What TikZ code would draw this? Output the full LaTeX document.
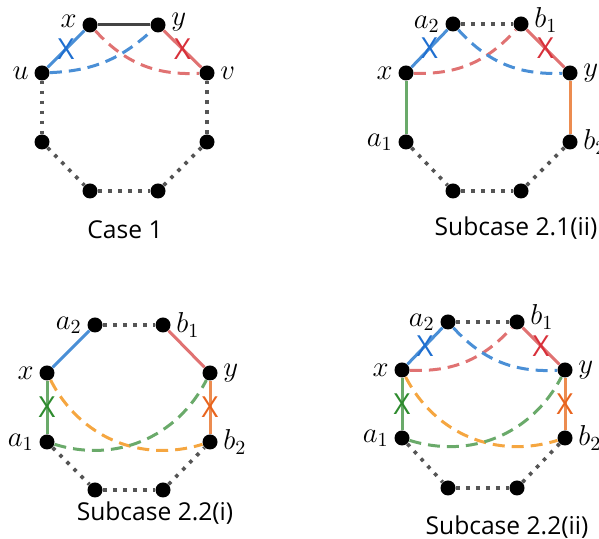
\documentclass[tikz,border=0pt]{standalone}
\usepackage{fontspec}
\newfontfamily\capfont{Open Sans}
\usepackage{xcolor}
\usetikzlibrary{positioning}

\definecolor{bluel}{HTML}{4A8FD6}
\definecolor{blueX}{HTML}{1F6FD0}
\definecolor{redl}{HTML}{E07272}
\definecolor{redX}{HTML}{D8303A}
\definecolor{greenl}{HTML}{6AAA6A}
\definecolor{greenX}{HTML}{2E8B2E}
\definecolor{orangel}{HTML}{EC8C50}
\definecolor{oranged}{HTML}{F5A640}
\definecolor{orangeX}{HTML}{E8641E}
\definecolor{dotgray}{HTML}{555555}
\definecolor{edgegray}{HTML}{444444}

\begin{document}
\begin{tikzpicture}[x=0.5pt, y=0.5pt,
  dot/.style={circle, fill=black, inner sep=0pt, minimum size=7.5pt},
  lab/.style={font=\fontsize{14}{16}\selectfont, inner sep=2.5pt},
  casetext/.style={font=\capfont\fontsize{12.3}{14}\selectfont},
  xmark/.style={font=\capfont\fontsize{14.5}{16}\selectfont, inner sep=0pt},
  dots/.style={line width=1.8pt, draw=dotgray, dash pattern=on 1.8pt off 3.2pt},
  solid gray/.style={line width=1.5pt, draw=edgegray},
  sblue/.style={line width=1.5pt, draw=bluel},
  sred/.style={line width=1.5pt, draw=redl},
  sgreen/.style={line width=1.5pt, draw=greenl},
  sorange/.style={line width=1.5pt, draw=orangel},
  dblue/.style={line width=1.5pt, draw=bluel, dash pattern=on 6pt off 3.5pt},
  dred/.style={line width=1.5pt, draw=redl, dash pattern=on 6pt off 3.5pt},
  dgreen/.style={line width=1.5pt, draw=greenl, dash pattern=on 6pt off 3.5pt},
  dorange/.style={line width=1.5pt, draw=oranged, dash pattern=on 6pt off 3.5pt}
]
\useasboundingbox (0,0) rectangle (599,539);

% Case 1
\node[dot, label={[lab, yshift=2pt]left:$x$}] (cx) at (90, 514) {};
\node[dot, label={[lab, yshift=1.5pt]right:$y$}] (cy) at (158, 514) {};
\node[dot, label={[lab]left:$u$}] (cu) at (42, 466) {};
\node[dot, label={[lab]right:$v$}] (cv) at (207, 466) {};
\node[dot] (cl) at (42, 397) {};
\node[dot] (cr) at (207, 397) {};
\node[dot] (cbl) at (90, 348) {};
\node[dot] (cbr) at (158, 348) {};
\node[casetext] (ccap) at (125, 309) {Case 1};

\draw[solid gray] (cx) -- (cy);
\draw[sblue] (cu) -- (cx) node[midway, xmark, text=blueX] {X};
\draw[sred] (cy) -- (cv) node[midway, xmark, text=redX] {X};
\draw[dblue] (cu) to [bend right=20] (cy);
\draw[dred] (cx) to [bend right=25] (cv);
\draw[dots] (cu) -- (cl);
\draw[dots] (cl) -- (cbl);
\draw[dots] (cbl) -- (cbr);
\draw[dots] (cbr) -- (cr);
\draw[dots] (cr) -- (cv);

% Subcase 2.1(ii)
\node[dot, label={[lab]left:$a_2$}] (pa2) at (453, 515) {};
\node[dot, label={[lab, yshift=2pt]right:$b_1$}] (pb1) at (521, 515) {};
\node[dot, label={[lab]left:$x$}] (px) at (406, 466) {};
\node[dot, label={[lab]right:$y$}] (py) at (570, 466) {};
\node[dot, label={[lab]left:$a_1$}] (pa1) at (406, 397) {};
\node[dot, label={[lab]right:$b_2$}] (pb2) at (570, 397) {};
\node[dot] (pbl) at (453, 348) {};
\node[dot] (pbr) at (521, 348) {};
\node[casetext] (pcap) at (516, 311) {Subcase 2.1(ii)};

\draw[dots] (pa2) -- (pb1);
\draw[sblue] (px) -- (pa2) node[midway, xmark, text=blueX] {X};
\draw[sred] (pb1) -- (py) node[midway, xmark, text=redX] {X};
\draw[dred] (px) to [bend right=25] (pb1);
\draw[dblue] (pa2) to [bend right=25] (py);
\draw[sgreen] (px) -- (pa1);
\draw[sorange] (py) -- (pb2);
\draw[dots] (pa1) -- (pbl);
\draw[dots] (pbl) -- (pbr);
\draw[dots] (pbr) -- (pb2);

% Subcase 2.2(i)
\node[dot, label={[lab]left:$a_2$}] (qa2) at (95, 214) {};
\node[dot, label={[lab]right:$b_1$}] (qb1) at (163, 214) {};
\node[dot, label={[lab]left:$x$}] (qx) at (47, 166) {};
\node[dot, label={[lab]right:$y$}] (qy) at (210, 166) {};
\node[dot, label={[lab]left:$a_1$}] (qa1) at (47, 97) {};
\node[dot, label={[lab]right:$b_2$}] (qb2) at (210, 97) {};
\node[dot] (qbl) at (95, 49) {};
\node[dot] (qbr) at (163, 49) {};
\node[casetext] (qcap) at (155, 26) {Subcase 2.2(i)};

\draw[dots] (qa2) -- (qb1);
\draw[sblue] (qx) -- (qa2);
\draw[sred] (qb1) -- (qy);
\draw[sgreen] (qx) -- (qa1) node[midway, xmark, text=greenX] {X};
\draw[sorange] (qy) -- (qb2) node[midway, xmark, text=orangeX] {X};
\draw[dorange] (qx) to [bend right=40] (qb2);
\draw[dgreen] (qa1) to [bend right=40] (qy);
\draw[dots] (qa1) -- (qbl);
\draw[dots] (qbl) -- (qbr);
\draw[dots] (qbr) -- (qb2);

% Subcase 2.2(ii)
\node[dot, label={[lab]left:$a_2$}] (ra2) at (448, 217) {};
\node[dot, label={[lab, yshift=2.5pt]right:$b_1$}] (rb1) at (517, 217) {};
\node[dot, label={[lab]left:$x$}] (rx) at (402, 169) {};
\node[dot, label={[lab]right:$y$}] (ry) at (565, 169) {};
\node[dot, label={[lab]left:$a_1$}] (ra1) at (402, 101) {};
\node[dot, label={[lab]right:$b_2$}] (rb2) at (565, 101) {};
\node[dot] (rbl) at (448, 51) {};
\node[dot] (rbr) at (517, 51) {};
\node[casetext] (rcap) at (507, 12) {Subcase 2.2(ii)};

\draw[dots] (ra2) -- (rb1);
\draw[sblue] (rx) -- (ra2) node[midway, xmark, text=blueX] {X};
\draw[sred] (rb1) -- (ry) node[midway, xmark, text=redX] {X};
\draw[sgreen] (rx) -- (ra1) node[midway, xmark, text=greenX] {X};
\draw[sorange] (ry) -- (rb2) node[midway, xmark, text=orangeX] {X};
\draw[dred] (rx) to [bend right=25] (rb1);
\draw[dblue] (ra2) to [bend right=25] (ry);
\draw[dorange] (rx) to [bend right=40] (rb2);
\draw[dgreen] (ra1) to [bend right=40] (ry);
\draw[dots] (ra1) -- (rbl);
\draw[dots] (rbl) -- (rbr);
\draw[dots] (rbr) -- (rb2);

\end{tikzpicture}
\end{document}
